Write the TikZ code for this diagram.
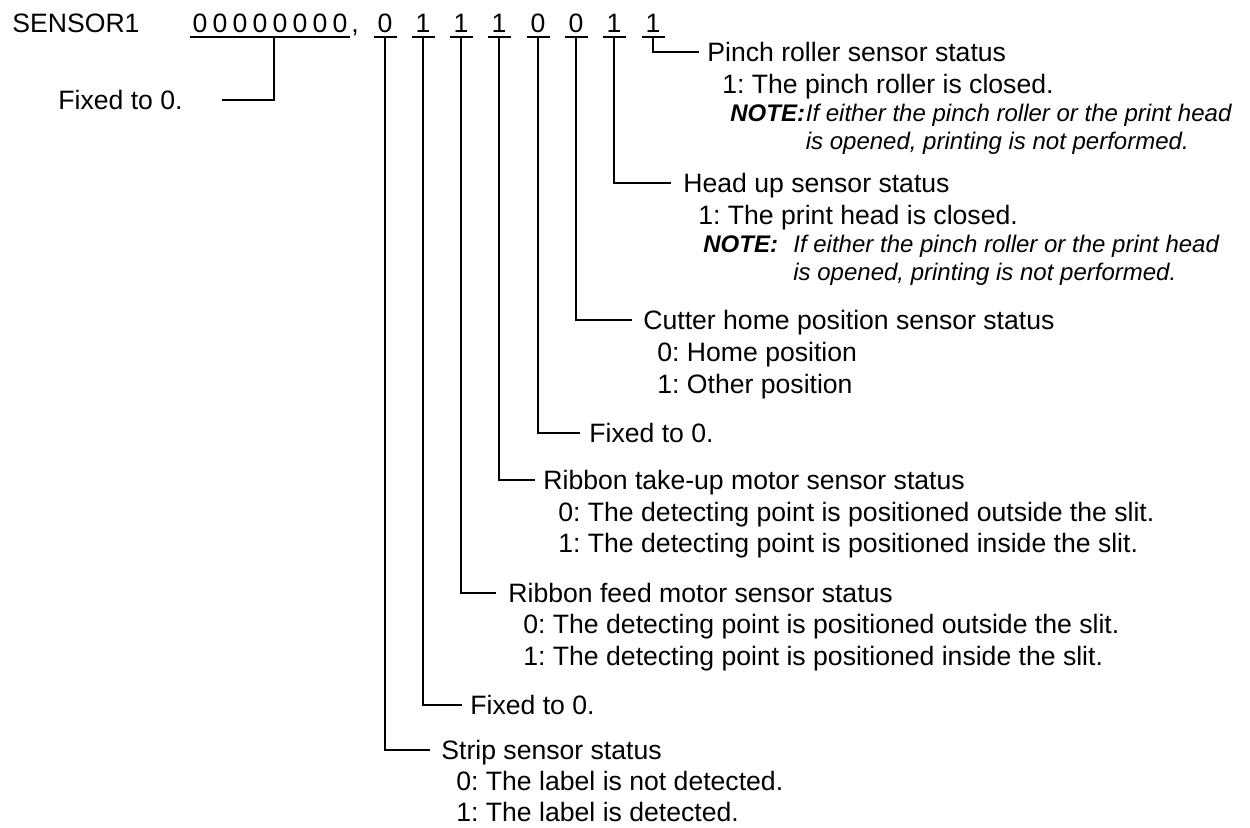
\documentclass[tikz,border=0pt]{standalone}
\usepackage{fontspec}
\setmainfont{Liberation Sans}
\usetikzlibrary{calc}
\tikzset{
  txt/.style={anchor=base west, inner sep=0pt, font=\fontsize{13.3}{16}\selectfont},
  note/.style={anchor=base west, inner sep=0pt, font=\fontsize{12}{14}\selectfont\itshape},
  notehead/.style={anchor=base west, inner sep=0pt, font=\fontsize{12}{14}\selectfont\bfseries\itshape},
  digit/.style={anchor=base, inner sep=0pt, font=\fontsize{13.3}{16}\selectfont},
  ul/.style={line width=1.4pt},
  conn/.style={line width=0.65pt},
}
\begin{document}
\frenchspacing
\begin{tikzpicture}[x=0.5pt,y=0.5pt]
\useasboundingbox (0,0) rectangle (1250,-827);

% header
\node[txt] (title) at (12,-32) {SENSOR1};
\foreach \i in {0,...,7} {
  \node[digit] (z\i) at (200+20*\i,-32) {0};
}
\node[txt] (comma) at (351,-32) {,};
\coordinate (zl) at (190,-37);
\coordinate (zr) at (350,-37);
\draw[ul] (zl) -- (zr);
\coordinate (zc) at (274,-37);

% lower 8 bits
\foreach \n/\x/\v in {0/385/0, 1/423/1, 2/461/1, 3/499/1, 4/538/0, 5/576/0, 6/614/1, 7/653/1} {
  \node[digit] (b\n) at (\x,-32) {\v};
  \coordinate (u\n) at (\x,-37);
  \draw[ul] ($(u\n)+(-11,0)$) -- ($(u\n)+(12,0)$);
}

% Fixed to 0 (upper byte)
\node[txt] (fixA) at (58,-109) {Fixed to 0.};
\draw[conn] (zc) |- ($(fixA.base east)+(39,9)$);

% Pinch roller
\node[txt] (pinch) at (707,-61) {Pinch roller sensor status};
\node[txt] (pinch1) at (722,-93) {1: The pinch roller is closed.};
\node[notehead] (n1h) at (730,-121) {NOTE:};
\node[note] (n1a) at (n1h.base east) {If either the pinch roller or the print head};
\node[note] (n1b) at ($(n1a.base west)+(0,-28)$) {is opened, printing is not performed.};
\draw[conn] (u7) |- ($(pinch.base west)+(-8,9)$);

% Head up
\node[txt] (head) at (683,-192) {Head up sensor status};
\node[txt] (head1) at (698,-224) {1: The print head is closed.};
\node[notehead] (n2h) at (703,-252) {NOTE:};
\node[note] (n2a) at (793,-252) {If either the pinch roller or the print head};
\node[note] (n2b) at ($(n2a.base west)+(0,-28)$) {is opened, printing is not performed.};
\draw[conn] (u6) |- ($(head.base west)+(-12,9)$);

% Cutter
\node[txt] (cut) at (643,-329) {Cutter home position sensor status};
\node[txt] (cut0) at (657,-361) {0: Home position};
\node[txt] (cut1) at (657,-393) {1: Other position};
\draw[conn] (u5) |- ($(cut.base west)+(-11,9)$);

% Fixed to 0 (bit 4)
\node[txt] (fixB) at (589,-442) {Fixed to 0.};
\draw[conn] (u4) |- ($(fixB.base west)+(-9,9)$);

% Ribbon take-up
\node[txt] (rtu) at (543,-489) {Ribbon take-up motor sensor status};
\node[txt] (rtu0) at (558,-521) {0: The detecting point is positioned outside the slit.};
\node[txt] (rtu1) at (558,-552) {1: The detecting point is positioned inside the slit.};
\draw[conn] (u3) |- ($(rtu.base west)+(-8,9)$);

% Ribbon feed
\node[txt] (rf) at (508,-602) {Ribbon feed motor sensor status};
\node[txt] (rf0) at (523,-633) {0: The detecting point is positioned outside the slit.};
\node[txt] (rf1) at (523,-665) {1: The detecting point is positioned inside the slit.};
\draw[conn] (u2) |- ($(rf.base west)+(-12,9)$);

% Fixed to 0 (bit 1)
\node[txt] (fixC) at (470,-714) {Fixed to 0.};
\draw[conn] (u1) |- ($(fixC.base west)+(-8,9)$);

% Strip
\node[txt] (strip) at (441,-759) {Strip sensor status};
\node[txt] (strip0) at (456,-790) {0: The label is not detected.};
\node[txt] (strip1) at (456,-821) {1: The label is detected.};
\draw[conn] (u0) |- ($(strip.base west)+(-11,9)$);
\end{tikzpicture}
\end{document}
